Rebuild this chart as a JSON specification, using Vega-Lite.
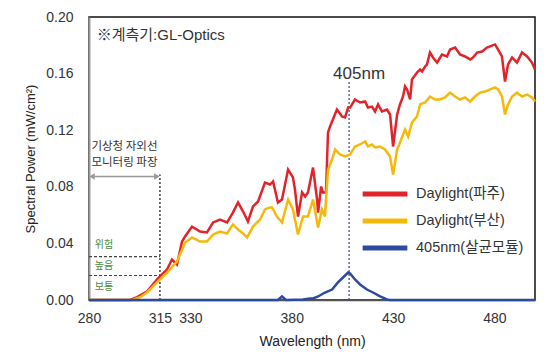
{
  "$schema": "https://vega.github.io/schema/vega-lite/v6.json",
  "autosize": "none",
  "width": 446,
  "height": 283,
  "padding": {"left": 89, "top": 17, "right": 22, "bottom": 60},
  "background": "white",
  "config": {
    "font": "Liberation Sans, Noto Sans CJK KR, sans-serif",
    "view": {"stroke": "#111", "strokeWidth": 1.5},
    "axis": {"grid": false, "ticks": false, "labelColor": "#333", "titleColor": "#222", "labelFont": "Liberation Sans", "titleFont": "Liberation Sans"}
  },
  "datasets": {
    "spectra": [
      {"w": 280, "v": 0, "s": "Daylight(파주)"},
      {"w": 300.2, "v": 0, "s": "Daylight(파주)"},
      {"w": 303.7, "v": 0.002, "s": "Daylight(파주)"},
      {"w": 308.6, "v": 0.006, "s": "Daylight(파주)"},
      {"w": 313.5, "v": 0.0145, "s": "Daylight(파주)"},
      {"w": 318.5, "v": 0.0216, "s": "Daylight(파주)"},
      {"w": 320.9, "v": 0.0286, "s": "Daylight(파주)"},
      {"w": 323.4, "v": 0.0251, "s": "Daylight(파주)"},
      {"w": 325.9, "v": 0.0413, "s": "Daylight(파주)"},
      {"w": 327.4, "v": 0.0449, "s": "Daylight(파주)"},
      {"w": 330.8, "v": 0.0519, "s": "Daylight(파주)"},
      {"w": 334.8, "v": 0.0484, "s": "Daylight(파주)"},
      {"w": 338.2, "v": 0.0477, "s": "Daylight(파주)"},
      {"w": 341.2, "v": 0.0548, "s": "Daylight(파주)"},
      {"w": 344.6, "v": 0.0569, "s": "Daylight(파주)"},
      {"w": 348.1, "v": 0.0548, "s": "Daylight(파주)"},
      {"w": 351.0, "v": 0.0618, "s": "Daylight(파주)"},
      {"w": 353.5, "v": 0.0689, "s": "Daylight(파주)"},
      {"w": 356.0, "v": 0.0625, "s": "Daylight(파주)"},
      {"w": 358.4, "v": 0.0555, "s": "Daylight(파주)"},
      {"w": 360.9, "v": 0.0661, "s": "Daylight(파주)"},
      {"w": 363.4, "v": 0.0696, "s": "Daylight(파주)"},
      {"w": 366.8, "v": 0.083, "s": "Daylight(파주)"},
      {"w": 369.3, "v": 0.0816, "s": "Daylight(파주)"},
      {"w": 370.8, "v": 0.0837, "s": "Daylight(파주)"},
      {"w": 373.2, "v": 0.0689, "s": "Daylight(파주)"},
      {"w": 375.2, "v": 0.071, "s": "Daylight(파주)"},
      {"w": 378.2, "v": 0.0922, "s": "Daylight(파주)"},
      {"w": 380.6, "v": 0.0866, "s": "Daylight(파주)"},
      {"w": 381.6, "v": 0.0781, "s": "Daylight(파주)"},
      {"w": 383.1, "v": 0.059, "s": "Daylight(파주)"},
      {"w": 385.1, "v": 0.076, "s": "Daylight(파주)"},
      {"w": 386.6, "v": 0.0731, "s": "Daylight(파주)"},
      {"w": 388.0, "v": 0.076, "s": "Daylight(파주)"},
      {"w": 390.5, "v": 0.0936, "s": "Daylight(파주)"},
      {"w": 392.5, "v": 0.071, "s": "Daylight(파주)"},
      {"w": 393.0, "v": 0.0618, "s": "Daylight(파주)"},
      {"w": 394.5, "v": 0.0802, "s": "Daylight(파주)"},
      {"w": 395.4, "v": 0.076, "s": "Daylight(파주)"},
      {"w": 396.9, "v": 0.076, "s": "Daylight(파주)"},
      {"w": 397.9, "v": 0.1184, "s": "Daylight(파주)"},
      {"w": 398.9, "v": 0.1226, "s": "Daylight(파주)"},
      {"w": 402.3, "v": 0.1346, "s": "Daylight(파주)"},
      {"w": 404.8, "v": 0.1297, "s": "Daylight(파주)"},
      {"w": 406.3, "v": 0.129, "s": "Daylight(파주)"},
      {"w": 407.8, "v": 0.136, "s": "Daylight(파주)"},
      {"w": 408.8, "v": 0.136, "s": "Daylight(파주)"},
      {"w": 411.2, "v": 0.1417, "s": "Daylight(파주)"},
      {"w": 413.7, "v": 0.1396, "s": "Daylight(파주)"},
      {"w": 416.2, "v": 0.1403, "s": "Daylight(파주)"},
      {"w": 417.6, "v": 0.136, "s": "Daylight(파주)"},
      {"w": 419.6, "v": 0.1367, "s": "Daylight(파주)"},
      {"w": 421.1, "v": 0.1332, "s": "Daylight(파주)"},
      {"w": 422.6, "v": 0.1382, "s": "Daylight(파주)"},
      {"w": 424.5, "v": 0.1332, "s": "Daylight(파주)"},
      {"w": 427.0, "v": 0.1346, "s": "Daylight(파주)"},
      {"w": 428.5, "v": 0.1311, "s": "Daylight(파주)"},
      {"w": 430.0, "v": 0.1085, "s": "Daylight(파주)"},
      {"w": 432.0, "v": 0.1311, "s": "Daylight(파주)"},
      {"w": 433.4, "v": 0.1382, "s": "Daylight(파주)"},
      {"w": 434.9, "v": 0.1438, "s": "Daylight(파주)"},
      {"w": 435.9, "v": 0.1509, "s": "Daylight(파주)"},
      {"w": 436.9, "v": 0.1488, "s": "Daylight(파주)"},
      {"w": 438.4, "v": 0.1417, "s": "Daylight(파주)"},
      {"w": 439.3, "v": 0.1558, "s": "Daylight(파주)"},
      {"w": 441.8, "v": 0.1608, "s": "Daylight(파주)"},
      {"w": 443.3, "v": 0.1629, "s": "Daylight(파주)"},
      {"w": 444.3, "v": 0.1615, "s": "Daylight(파주)"},
      {"w": 445.8, "v": 0.165, "s": "Daylight(파주)"},
      {"w": 446.7, "v": 0.1664, "s": "Daylight(파주)"},
      {"w": 448.2, "v": 0.1749, "s": "Daylight(파주)"},
      {"w": 449.7, "v": 0.1714, "s": "Daylight(파주)"},
      {"w": 451.7, "v": 0.1678, "s": "Daylight(파주)"},
      {"w": 454.1, "v": 0.1735, "s": "Daylight(파주)"},
      {"w": 456.6, "v": 0.1721, "s": "Daylight(파주)"},
      {"w": 458.1, "v": 0.177, "s": "Daylight(파주)"},
      {"w": 460.6, "v": 0.1784, "s": "Daylight(파주)"},
      {"w": 463.0, "v": 0.1735, "s": "Daylight(파주)"},
      {"w": 465.5, "v": 0.1721, "s": "Daylight(파주)"},
      {"w": 468.0, "v": 0.17, "s": "Daylight(파주)"},
      {"w": 469.4, "v": 0.1714, "s": "Daylight(파주)"},
      {"w": 471.4, "v": 0.1749, "s": "Daylight(파주)"},
      {"w": 473.9, "v": 0.1756, "s": "Daylight(파주)"},
      {"w": 476.3, "v": 0.1784, "s": "Daylight(파주)"},
      {"w": 477.8, "v": 0.1792, "s": "Daylight(파주)"},
      {"w": 480.3, "v": 0.1806, "s": "Daylight(파주)"},
      {"w": 481.8, "v": 0.177, "s": "Daylight(파주)"},
      {"w": 483.7, "v": 0.1721, "s": "Daylight(파주)"},
      {"w": 485.2, "v": 0.1544, "s": "Daylight(파주)"},
      {"w": 486.7, "v": 0.1664, "s": "Daylight(파주)"},
      {"w": 488.7, "v": 0.1714, "s": "Daylight(파주)"},
      {"w": 491.1, "v": 0.1678, "s": "Daylight(파주)"},
      {"w": 493.6, "v": 0.1749, "s": "Daylight(파주)"},
      {"w": 496.1, "v": 0.1721, "s": "Daylight(파주)"},
      {"w": 498.5, "v": 0.1678, "s": "Daylight(파주)"},
      {"w": 500, "v": 0.1629, "s": "Daylight(파주)"},

      {"w": 280, "v": 0, "s": "Daylight(부산)"},
      {"w": 301.2, "v": 0, "s": "Daylight(부산)"},
      {"w": 305.2, "v": 0.002, "s": "Daylight(부산)"},
      {"w": 308.6, "v": 0.0053, "s": "Daylight(부산)"},
      {"w": 313.5, "v": 0.0124, "s": "Daylight(부산)"},
      {"w": 318.5, "v": 0.0194, "s": "Daylight(부산)"},
      {"w": 323.4, "v": 0.0272, "s": "Daylight(부산)"},
      {"w": 327.4, "v": 0.0406, "s": "Daylight(부산)"},
      {"w": 330.8, "v": 0.0442, "s": "Daylight(부산)"},
      {"w": 334.8, "v": 0.0413, "s": "Daylight(부산)"},
      {"w": 338.2, "v": 0.0413, "s": "Daylight(부산)"},
      {"w": 341.2, "v": 0.0463, "s": "Daylight(부산)"},
      {"w": 344.6, "v": 0.0484, "s": "Daylight(부산)"},
      {"w": 348.1, "v": 0.047, "s": "Daylight(부산)"},
      {"w": 351.0, "v": 0.0534, "s": "Daylight(부산)"},
      {"w": 353.5, "v": 0.0498, "s": "Daylight(부산)"},
      {"w": 356.0, "v": 0.047, "s": "Daylight(부산)"},
      {"w": 358.0, "v": 0.0442, "s": "Daylight(부산)"},
      {"w": 360.9, "v": 0.0519, "s": "Daylight(부산)"},
      {"w": 364.4, "v": 0.0569, "s": "Daylight(부산)"},
      {"w": 366.8, "v": 0.064, "s": "Daylight(부산)"},
      {"w": 369.3, "v": 0.0654, "s": "Daylight(부산)"},
      {"w": 370.3, "v": 0.0654, "s": "Daylight(부산)"},
      {"w": 372.7, "v": 0.059, "s": "Daylight(부산)"},
      {"w": 375.2, "v": 0.0548, "s": "Daylight(부산)"},
      {"w": 378.2, "v": 0.071, "s": "Daylight(부산)"},
      {"w": 380.6, "v": 0.064, "s": "Daylight(부산)"},
      {"w": 383.1, "v": 0.0463, "s": "Daylight(부산)"},
      {"w": 385.6, "v": 0.059, "s": "Daylight(부산)"},
      {"w": 388.0, "v": 0.059, "s": "Daylight(부산)"},
      {"w": 390.5, "v": 0.071, "s": "Daylight(부산)"},
      {"w": 393.0, "v": 0.0512, "s": "Daylight(부산)"},
      {"w": 394.9, "v": 0.064, "s": "Daylight(부산)"},
      {"w": 396.4, "v": 0.059, "s": "Daylight(부산)"},
      {"w": 397.9, "v": 0.0922, "s": "Daylight(부산)"},
      {"w": 399.9, "v": 0.0993, "s": "Daylight(부산)"},
      {"w": 401.4, "v": 0.1064, "s": "Daylight(부산)"},
      {"w": 403.8, "v": 0.1028, "s": "Daylight(부산)"},
      {"w": 406.3, "v": 0.1014, "s": "Daylight(부산)"},
      {"w": 408.8, "v": 0.1028, "s": "Daylight(부산)"},
      {"w": 411.2, "v": 0.1085, "s": "Daylight(부산)"},
      {"w": 413.7, "v": 0.1099, "s": "Daylight(부산)"},
      {"w": 416.2, "v": 0.112, "s": "Daylight(부산)"},
      {"w": 417.6, "v": 0.1085, "s": "Daylight(부산)"},
      {"w": 419.6, "v": 0.1099, "s": "Daylight(부산)"},
      {"w": 421.1, "v": 0.1078, "s": "Daylight(부산)"},
      {"w": 423.6, "v": 0.1085, "s": "Daylight(부산)"},
      {"w": 426.0, "v": 0.1064, "s": "Daylight(부산)"},
      {"w": 428.5, "v": 0.1014, "s": "Daylight(부산)"},
      {"w": 430.0, "v": 0.0887, "s": "Daylight(부산)"},
      {"w": 432.0, "v": 0.1064, "s": "Daylight(부산)"},
      {"w": 433.4, "v": 0.1113, "s": "Daylight(부산)"},
      {"w": 435.9, "v": 0.1205, "s": "Daylight(부산)"},
      {"w": 437.4, "v": 0.1155, "s": "Daylight(부산)"},
      {"w": 439.3, "v": 0.1254, "s": "Daylight(부산)"},
      {"w": 441.8, "v": 0.1297, "s": "Daylight(부산)"},
      {"w": 443.3, "v": 0.1382, "s": "Daylight(부산)"},
      {"w": 445.8, "v": 0.1396, "s": "Daylight(부산)"},
      {"w": 448.2, "v": 0.1438, "s": "Daylight(부산)"},
      {"w": 450.7, "v": 0.1417, "s": "Daylight(부산)"},
      {"w": 453.2, "v": 0.1417, "s": "Daylight(부산)"},
      {"w": 455.6, "v": 0.1431, "s": "Daylight(부산)"},
      {"w": 458.1, "v": 0.1466, "s": "Daylight(부산)"},
      {"w": 460.6, "v": 0.1438, "s": "Daylight(부산)"},
      {"w": 463.0, "v": 0.1417, "s": "Daylight(부산)"},
      {"w": 465.5, "v": 0.1431, "s": "Daylight(부산)"},
      {"w": 468.0, "v": 0.1403, "s": "Daylight(부산)"},
      {"w": 470.4, "v": 0.1438, "s": "Daylight(부산)"},
      {"w": 472.9, "v": 0.1466, "s": "Daylight(부산)"},
      {"w": 475.4, "v": 0.1473, "s": "Daylight(부산)"},
      {"w": 477.8, "v": 0.1488, "s": "Daylight(부산)"},
      {"w": 480.3, "v": 0.1502, "s": "Daylight(부산)"},
      {"w": 481.8, "v": 0.1488, "s": "Daylight(부산)"},
      {"w": 483.7, "v": 0.1438, "s": "Daylight(부산)"},
      {"w": 485.2, "v": 0.1311, "s": "Daylight(부산)"},
      {"w": 486.7, "v": 0.1382, "s": "Daylight(부산)"},
      {"w": 488.7, "v": 0.1438, "s": "Daylight(부산)"},
      {"w": 491.1, "v": 0.1466, "s": "Daylight(부산)"},
      {"w": 493.6, "v": 0.1438, "s": "Daylight(부산)"},
      {"w": 496.1, "v": 0.1452, "s": "Daylight(부산)"},
      {"w": 498.5, "v": 0.1431, "s": "Daylight(부산)"},
      {"w": 500, "v": 0.1403, "s": "Daylight(부산)"},

      {"w": 280, "v": 0, "s": "405nm(살균모듈)"},
      {"w": 373.2, "v": 0, "s": "405nm(살균모듈)"},
      {"w": 375.2, "v": 0.0025, "s": "405nm(살균모듈)"},
      {"w": 377.2, "v": 0, "s": "405nm(살균모듈)"},
      {"w": 385.6, "v": 0.0004, "s": "405nm(살균모듈)"},
      {"w": 389.0, "v": 0.001, "s": "405nm(살균모듈)"},
      {"w": 390.5, "v": 0.0011, "s": "405nm(살균모듈)"},
      {"w": 393.0, "v": 0.0025, "s": "405nm(살균모듈)"},
      {"w": 396.4, "v": 0.0053, "s": "405nm(살균모듈)"},
      {"w": 399.9, "v": 0.0074, "s": "405nm(살균모듈)"},
      {"w": 402.8, "v": 0.0124, "s": "405nm(살균모듈)"},
      {"w": 405.3, "v": 0.0159, "s": "405nm(살균모듈)"},
      {"w": 407.8, "v": 0.0194, "s": "405nm(살균모듈)"},
      {"w": 408.8, "v": 0.0187, "s": "405nm(살균모듈)"},
      {"w": 411.2, "v": 0.0145, "s": "405nm(살균모듈)"},
      {"w": 413.7, "v": 0.011, "s": "405nm(살균모듈)"},
      {"w": 417.1, "v": 0.0074, "s": "405nm(살균모듈)"},
      {"w": 420.1, "v": 0.0053, "s": "405nm(살균모듈)"},
      {"w": 423.6, "v": 0.0025, "s": "405nm(살균모듈)"},
      {"w": 427.0, "v": 0.0004, "s": "405nm(살균모듈)"},
      {"w": 428.5, "v": 0, "s": "405nm(살균모듈)"},
      {"w": 500, "v": 0, "s": "405nm(살균모듈)"}
    ]
  },
  "layer": [
    {
      "data": {"values": [{}]},
      "mark": {"type": "rule", "color": "#222", "strokeDash": [2, 2], "strokeWidth": 1.3},
      "encoding": {"x": {"datum": 315, "type": "quantitative"}, "y": {"datum": 0}, "y2": {"datum": 0.0887}}
    },
    {
      "data": {"values": [{}]},
      "mark": {"type": "rule", "color": "#444", "strokeDash": [3, 2], "strokeWidth": 1.2},
      "encoding": {"x": {"datum": 280, "type": "quantitative"}, "x2": {"datum": 315}, "y": {"datum": 0.0307}}
    },
    {
      "data": {"values": [{}]},
      "mark": {"type": "rule", "color": "#444", "strokeDash": [3, 2], "strokeWidth": 1.2},
      "encoding": {"x": {"datum": 280, "type": "quantitative"}, "x2": {"datum": 315}, "y": {"datum": 0.0173}}
    },
    {
      "data": {"values": [{}]},
      "mark": {"type": "rule", "color": "#999", "strokeWidth": 1.5},
      "encoding": {"x": {"datum": 281, "type": "quantitative"}, "x2": {"datum": 314}, "y": {"datum": 0.0873}}
    },
    {
      "data": {"values": [{}]},
      "mark": {"type": "point", "shape": "triangle-left", "filled": true, "color": "#999", "size": 40, "opacity": 1},
      "encoding": {"x": {"datum": 281.5, "type": "quantitative"}, "y": {"datum": 0.0873}}
    },
    {
      "data": {"values": [{}]},
      "mark": {"type": "point", "shape": "triangle-right", "filled": true, "color": "#999", "size": 40, "opacity": 1},
      "encoding": {"x": {"datum": 313.5, "type": "quantitative"}, "y": {"datum": 0.0873}}
    },
    {
      "data": {"values": [{}]},
      "mark": {"type": "rule", "color": "#4a4f8a", "strokeDash": [2, 2], "strokeWidth": 1.3},
      "encoding": {"x": {"datum": 408.3, "type": "quantitative"}, "y": {"datum": 0}, "y2": {"datum": 0.154}}
    },
    {
      "data": {"name": "spectra"},
      "mark": {"type": "line", "strokeWidth": 2.5, "interpolate": "linear"},
      "encoding": {
        "x": {"field": "w", "type": "quantitative", "scale": {"domain": [280, 500], "nice": false, "zero": false},
              "axis": {"values": [280, 315, 330, 380, 430, 480], "title": "Wavelength (nm)", "labelFontSize": 14, "titleFontSize": 14, "titleFontWeight": "normal", "labelPadding": 11, "titlePadding": 9, "domainColor": "#555", "domainWidth": 1.5, "labelFlush": false}},
        "y": {"field": "v", "type": "quantitative", "scale": {"domain": [0, 0.2], "nice": false},
              "axis": {"values": [0, 0.02, 0.04, 0.06, 0.08, 0.1, 0.12, 0.14, 0.16, 0.18, 0.2], "format": ".2f", "title": "Spectral Power (mW/cm²)", "labelFontSize": 14, "titleFontSize": 13, "titleFontWeight": "normal", "labelPadding": 16, "titlePadding": 8, "domainColor": "#999", "domainWidth": 2}},
        "color": {"field": "s", "type": "nominal",
                  "scale": {"domain": ["Daylight(파주)", "Daylight(부산)", "405nm(살균모듈)"], "range": ["#e0242a", "#f5b90a", "#2d4a9e"]},
                  "legend": {"title": null, "orient": "none", "legendX": 282, "legendY": 163, "symbolType": "M-2,0H2", "symbolStrokeWidth": 5, "symbolSize": 500, "labelFontSize": 14.5, "labelColor": "#333", "labelOffset": 17, "rowPadding": 3, "labelLimit": 300}},
        "order": {"field": "s", "sort": "ascending"}
      }
    },
    {
      "data": {"values": [{}]},
      "mark": {"type": "text", "text": "405nm", "fontSize": 17, "color": "#333", "align": "left", "baseline": "middle"},
      "encoding": {"x": {"datum": 400.4, "type": "quantitative"}, "y": {"datum": 0.16}}
    },
    {
      "data": {"values": [{}]},
      "mark": {"type": "text", "text": "※계측기:GL-Optics", "fontSize": 15, "color": "#333", "align": "left", "baseline": "middle", "font": "Liberation Sans, Noto Sans CJK KR"},
      "encoding": {"x": {"datum": 283.8, "type": "quantitative"}, "y": {"datum": 0.187}}
    },
    {
      "data": {"values": [{}]},
      "mark": {"type": "text", "text": "기상청 자외선", "fontSize": 11.5, "color": "#333", "align": "left", "baseline": "middle", "font": "Noto Sans CJK KR"},
      "encoding": {"x": {"datum": 281.2, "type": "quantitative"}, "y": {"datum": 0.1082}}
    },
    {
      "data": {"values": [{}]},
      "mark": {"type": "text", "text": "모니터링 파장", "fontSize": 11.5, "color": "#333", "align": "left", "baseline": "middle", "font": "Noto Sans CJK KR"},
      "encoding": {"x": {"datum": 281.2, "type": "quantitative"}, "y": {"datum": 0.0968}}
    },
    {
      "data": {"values": [{}]},
      "mark": {"type": "text", "text": "위험", "fontSize": 10, "color": "#4c8c3c", "align": "center", "baseline": "middle", "font": "Noto Sans CJK KR"},
      "encoding": {"x": {"datum": 287.4, "type": "quantitative"}, "y": {"datum": 0.0392}}
    },
    {
      "data": {"values": [{}]},
      "mark": {"type": "text", "text": "높음", "fontSize": 10, "color": "#4c8c3c", "align": "center", "baseline": "middle", "font": "Noto Sans CJK KR"},
      "encoding": {"x": {"datum": 287.4, "type": "quantitative"}, "y": {"datum": 0.0237}}
    },
    {
      "data": {"values": [{}]},
      "mark": {"type": "text", "text": "보통", "fontSize": 10, "color": "#4c8c3c", "align": "center", "baseline": "middle", "font": "Noto Sans CJK KR"},
      "encoding": {"x": {"datum": 287.4, "type": "quantitative"}, "y": {"datum": 0.0095}}
    }
  ]
}
